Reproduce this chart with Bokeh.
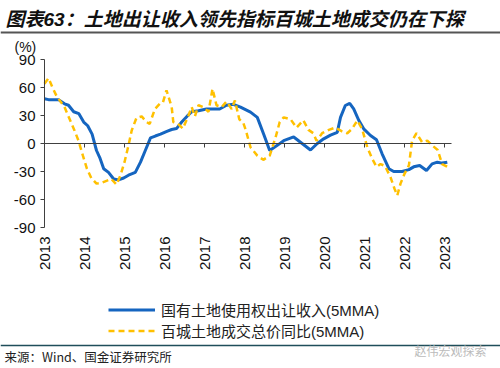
from bokeh.plotting import figure
from bokeh.models import (Range1d, FixedTicker, Span, Legend, LegendItem, LinearAxis, Label)
from bokeh.embed import file_html
from bokeh.resources import INLINE
import math

# ---------------- data ----------------
title_text = "图表63：土地出让收入领先指标百城土地成交仍在下探"
source_text = "来源：Wind、国金证券研究所"
watermark_text = "赵伟宏观探索"
unit_text = "(%)"
series1_name = "国有土地使用权出让收入(5MMA)"
series2_name = "百城土地成交总价同比(5MMA)"

year_ticks = [2013, 2014, 2015, 2016, 2017, 2018, 2019, 2020, 2021, 2022, 2023]
y_ticks = [-90, -60, -30, 0, 30, 60, 90]
y_tick_labels = ["-90", "-60", "-30", "0", "30", "60", "90"]

blue_t = [2013.0, 2013.1, 2013.35, 2013.5, 2013.6, 2013.73, 2013.86, 2013.98, 2014.08, 2014.19,
          2014.3, 2014.39, 2014.48, 2014.6, 2014.73, 2014.85, 2014.98, 2015.1, 2015.27, 2015.4,
          2015.52, 2015.65, 2015.77, 2015.9, 2016.06, 2016.18, 2016.3, 2016.43, 2016.56, 2016.68,
          2016.85, 2017.05, 2017.38, 2017.55, 2017.72, 2017.9, 2018.15, 2018.32, 2018.48, 2018.63,
          2018.82, 2018.98, 2019.23, 2019.44, 2019.65, 2019.82, 2019.98, 2020.15, 2020.32, 2020.4,
          2020.52, 2020.63, 2020.73, 2020.86, 2020.98, 2021.15, 2021.3, 2021.44, 2021.61, 2021.73,
          2021.94, 2022.11, 2022.23, 2022.38, 2022.55, 2022.69, 2022.82, 2022.94, 2023.07]
blue_v = [48, 47, 47, 42.5, 41, 34, 32, 23, 19, 10,
          -7.5, -16, -27, -31, -38, -39, -37, -34, -31, -20,
          -7.5, 6, 8, 10, 13, 15, 16, 23, 29, 34,
          35, 37, 37, 41, 42, 39, 33.6, 28, 10, -7.5,
          -2, 3, 7, 0, -7, 0, 5, 9, 12, 28,
          40.7, 43, 37, 24.6, 15.7, 8.6, 4, -11, -27, -30,
          -30, -28, -25, -23.5, -29, -21.8, -20, -21, -20]

gold_t = [2013.0, 2013.1, 2013.2, 2013.3, 2013.5, 2013.63, 2013.75, 2013.85, 2013.96, 2014.06,
          2014.17, 2014.3, 2014.43, 2014.55, 2014.67, 2014.8, 2014.9, 2015.0, 2015.1, 2015.18,
          2015.3, 2015.43, 2015.55, 2015.63, 2015.76, 2015.88, 2015.96, 2016.05, 2016.18, 2016.22,
          2016.34, 2016.46, 2016.6, 2016.68, 2016.76, 2016.85, 2016.97, 2017.1, 2017.2, 2017.3,
          2017.43, 2017.55, 2017.68, 2017.76, 2017.87, 2017.97, 2018.03, 2018.15, 2018.32, 2018.47,
          2018.63, 2018.78, 2018.88, 2018.98, 2019.15, 2019.3, 2019.47, 2019.6, 2019.72, 2019.8,
          2019.94, 2020.11, 2020.27, 2020.44, 2020.57, 2020.69, 2020.82, 2020.94, 2021.07, 2021.19,
          2021.3, 2021.4, 2021.51, 2021.65, 2021.75, 2021.82, 2021.9, 2022.0, 2022.11, 2022.19,
          2022.3, 2022.44, 2022.57, 2022.69, 2022.83, 2022.94, 2023.07]
gold_v = [64, 70, 60, 51, 39, 26, 14, 3, -13, -27,
          -37, -43, -42, -40, -38, -44, -34, -20, -2, 14,
          27.5, 29, 23, 21, 37, 42.5, 44, 57, 39, 23,
          21, 16, 30, 39, 29, 41, 39, 34, 58.6, 41,
          39, 45, 37, 46, 26, 22, 14.6, -4, -13, -17.5,
          -13, 7, 23, 28, 26, 17, 25, 14.6, 11, 3,
          11, 14.6, 17, 13, 11, 15.7, 24.6, 15.7, -4, -16,
          -25, -22, -24, -36, -48.5, -55.7, -43, -32.5, -23.5, 3,
          11, 1.4, 3, -2, -7, -22, -25]

# ---------------- layout / styling ----------------
BLUE = "#1565C0"
GOLD = "#FFC000"
AXIS = "#404040"
LATIN = "Liberation Sans"
CJK = "Liberation Sans, Noto Sans CJK SC"
CJK_ONLY = "Noto Sans CJK SC"
GOLD_DASH = "6 4"

W, H = 500, 368
# chart box in page pixels: x of first year, px per year, y of zero, px per unit
X0_PX, PX_PER_YEAR = 44, 40.0
Y0_PX, PX_PER_UNIT = 143, 168 / 180
X_AXIS_END = 2023.175

x_start = year_ticks[0] - X0_PX / PX_PER_YEAR
x_end = year_ticks[0] + (W - X0_PX) / PX_PER_YEAR
y_end = Y0_PX / PX_PER_UNIT
y_start = -(H - Y0_PX) / PX_PER_UNIT

p = figure(width=W, height=H, output_backend="svg", toolbar_location=None,
           x_range=Range1d(x_start, x_end), y_range=Range1d(y_start, y_end),
           x_axis_location=None, y_axis_location=None, title=None,
           min_border_left=0, min_border_right=0, min_border_top=0, min_border_bottom=0)
p.outline_line_color = None
p.grid.visible = False
p.background_fill_color = "white"
p.border_fill_color = "white"

# y axis, pinned at the first year
yaxis = LinearAxis(fixed_location=year_ticks[0], bounds=(y_ticks[0], y_ticks[-1]),
                   ticker=FixedTicker(ticks=y_ticks),
                   major_label_overrides=dict(zip(y_ticks, y_tick_labels)),
                   axis_line_color=AXIS, axis_line_width=1,
                   major_tick_line_color=AXIS, major_tick_out=4, major_tick_in=0,
                   minor_tick_line_color=None,
                   major_label_text_font=LATIN, major_label_text_font_size="15px",
                   major_label_text_color="#111111", major_label_standoff=5)
p.add_layout(yaxis, "left")

# x axis, pinned on the zero line; year labels hang below the chart
label_top_px = 236
xaxis = LinearAxis(fixed_location=0, bounds=(year_ticks[0], X_AXIS_END),
                   ticker=FixedTicker(ticks=year_ticks),
                   axis_line_color=AXIS, axis_line_width=1,
                   major_tick_line_color=AXIS, major_tick_out=4, major_tick_in=0,
                   minor_tick_line_color=None,
                   major_label_orientation=math.pi / 2,
                   major_label_text_font=LATIN, major_label_text_font_size="15px",
                   major_label_text_color="#111111",
                   major_label_standoff=label_top_px - Y0_PX - 4)
p.add_layout(xaxis, "below")

r_blue = p.line(blue_t, blue_v, line_color=BLUE, line_width=3)
r_gold = p.line(gold_t, gold_v, line_color=GOLD, line_width=2.5, line_dash=GOLD_DASH)

legend = Legend(items=[LegendItem(label=series1_name, renderers=[r_blue]),
                       LegendItem(label=series2_name, renderers=[r_gold])],
                location=(108, H - 341), orientation="vertical",
                background_fill_alpha=0, border_line_color=None,
                padding=0, margin=0, spacing=0, glyph_width=47, glyph_height=19,
                label_height=19, label_standoff=6,
                label_text_font=CJK, label_text_font_size="15px",
                label_text_color="#222222")
p.add_layout(legend, "center")


def scr_label(x_px, y_px, text, font, size, color, style="normal", align="left"):
    p.add_layout(Label(x=x_px, y=H - y_px, x_units="screen", y_units="screen", text=text,
                       text_font=font, text_font_size=size, text_font_style=style,
                       text_color=color, text_baseline="middle", text_align=align))


# title + rule
scr_label(5, 18.5, title_text, CJK, "19px", "#111111", style="bold italic")
p.add_layout(Span(location=H - 32, location_units="screen", dimension="width",
                  line_color="#555555", line_width=2))
# unit
scr_label(14, 46, unit_text, LATIN, "14px", "#111111")
# bottom rule, source, watermark
p.add_layout(Span(location=H - 345, location_units="screen", dimension="width",
                  line_color="#1F4E5A", line_width=1.5))
scr_label(4, 356, source_text, CJK_ONLY, "12.5px", "#222222")
scr_label(486, 350, watermark_text, CJK_ONLY, "12px", "#BBBBBB", align="right")

open("out.html", "w").write(file_html(p, INLINE))
